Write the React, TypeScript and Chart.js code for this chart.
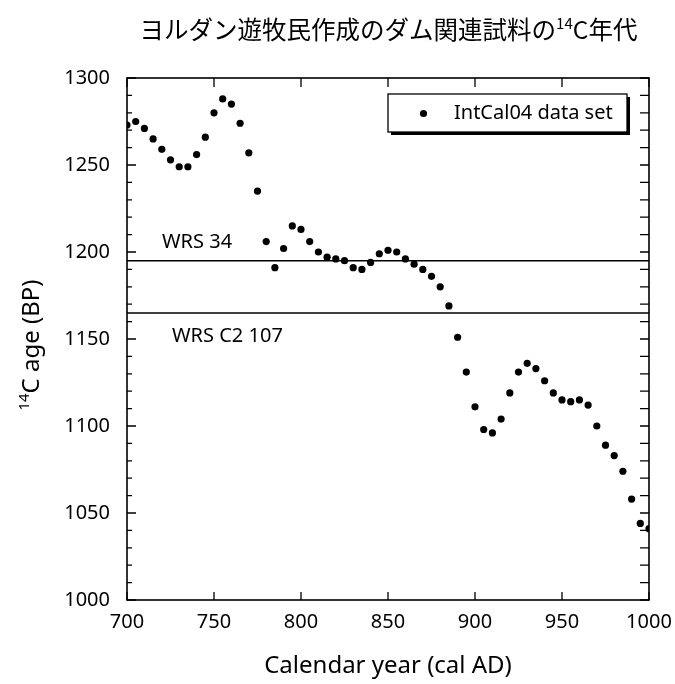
import React, { useEffect, useRef } from "react";
import { Chart, registerables } from "chart.js";

Chart.register(...registerables);

const years = [
  700, 705, 710, 715, 720, 725, 730, 735, 740, 745,
  750, 755, 760, 765, 770, 775, 780, 785, 790, 795,
  800, 805, 810, 815, 820, 825, 830, 835, 840, 845,
  850, 855, 860, 865, 870, 875, 880, 885, 890, 895,
  900, 905, 910, 915, 920, 925, 930, 935, 940, 945,
  950, 955, 960, 965, 970, 975, 980, 985, 990, 995,
  1000,
];

const c14Ages = [
  1273, 1275, 1271, 1265, 1259, 1253, 1249, 1249, 1256, 1266,
  1280, 1288, 1285, 1274, 1257, 1235, 1206, 1191, 1202, 1215,
  1213, 1206, 1200, 1197, 1196, 1195, 1191, 1190, 1194, 1199,
  1201, 1200, 1196, 1193, 1190, 1186, 1180, 1169, 1151, 1131,
  1111, 1098, 1096, 1104, 1119, 1131, 1136, 1133, 1126, 1119,
  1115, 1114, 1115, 1112, 1100, 1089, 1083, 1074, 1058, 1044,
  1041,
];

const sampleNames = ["WRS 34", "WRS C2 107"];
const sampleAges = [1195, 1165];

const xRange = [700, 1000];
const yRange = [1000, 1300];

const titleMain = "ヨルダン遊牧民作成のダム関連試料の";
const titleSup = "14";
const titleRest = "C年代";
const yTitleSup = "14";
const yTitleRest = "C age (BP)";
const xTitle = "Calendar year (cal AD)";
const legendLabel = "IntCal04 data set";

const LATIN = "'Noto Sans', 'DejaVu Sans', sans-serif";
const CJK = "'Noto Sans CJK JP', 'Noto Sans', sans-serif";

const decorPlugin = {
  id: "decor",
  afterDraw(chart: any) {
    const ctx = chart.ctx;
    const { left, right, top, bottom } = chart.chartArea;
    const xs = chart.scales.x;
    const ys = chart.scales.y;
    ctx.save();
    ctx.strokeStyle = "#000";
    ctx.fillStyle = "#000";

    // frame
    ctx.lineWidth = 1.6;
    ctx.strokeRect(left, top, right - left, bottom - top);

    // ticks (inward)
    ctx.lineWidth = 1.3;
    ctx.beginPath();
    for (let v = yRange[0]; v <= yRange[1]; v += 10) {
      const py = ys.getPixelForValue(v);
      const major = v % 50 === 0;
      ctx.moveTo(left, py);
      ctx.lineTo(left + (major ? 9 : 5), py);
      ctx.moveTo(right, py);
      ctx.lineTo(right - 9, py);
    }
    for (let v = xRange[0]; v <= xRange[1]; v += 50) {
      const px = xs.getPixelForValue(v);
      ctx.moveTo(px, top);
      ctx.lineTo(px, top + 9);
      ctx.moveTo(px, bottom);
      ctx.lineTo(px, bottom - 8);
    }
    ctx.stroke();

    // sample labels
    ctx.font = `20px ${LATIN}`;
    ctx.textAlign = "left";
    ctx.textBaseline = "alphabetic";
    const l1 = ys.getPixelForValue(sampleAges[0]);
    const l2 = ys.getPixelForValue(sampleAges[1]);
    ctx.fillText(sampleNames[0], left + 35, l1 - 13);
    ctx.fillText(sampleNames[1], left + 45, l2 + 29);

    // legend box
    const bx = 388, by = 94, bw = 239, bh = 38;
    ctx.fillRect(bx + 3, by + 3, bw, bh);
    ctx.fillStyle = "#fff";
    ctx.fillRect(bx, by, bw, bh);
    ctx.lineWidth = 1.3;
    ctx.strokeRect(bx, by, bw, bh);
    ctx.fillStyle = "#000";
    ctx.beginPath();
    ctx.arc(bx + 35.5, by + 19.5, 3.6, 0, Math.PI * 2);
    ctx.fill();
    ctx.font = `20px ${LATIN}`;
    ctx.textBaseline = "middle";
    ctx.fillText(chart.data.datasets[0].label, bx + 66, by + 19);

    // title
    ctx.textBaseline = "alphabetic";
    const tf = `24.5px ${CJK}`;
    const sf = `15px ${CJK}`;
    ctx.font = tf;
    const w1 = ctx.measureText(titleMain).width;
    const w3 = ctx.measureText(titleRest).width;
    ctx.font = sf;
    const w2 = ctx.measureText(titleSup).width;
    const total = w1 + w2 + w3;
    let tx = 388.5 - total / 2;
    const tBase = 39;
    ctx.font = tf;
    ctx.fillText(titleMain, tx, tBase);
    tx += w1;
    ctx.font = sf;
    ctx.fillText(titleSup, tx, tBase - 10);
    tx += w2;
    ctx.font = tf;
    ctx.fillText(titleRest, tx, tBase);

    // y title rotated
    ctx.save();
    ctx.translate(39, 345);
    ctx.rotate(-Math.PI / 2);
    const yf = `24px ${LATIN}`;
    const ysf = `15px ${LATIN}`;
    ctx.font = ysf;
    const ww1 = ctx.measureText(yTitleSup).width;
    ctx.font = yf;
    const ww2 = ctx.measureText(yTitleRest).width;
    let yx = -(ww1 + ww2) / 2;
    ctx.font = ysf;
    ctx.fillText(yTitleSup, yx, -10);
    yx += ww1;
    ctx.font = yf;
    ctx.fillText(yTitleRest, yx, 0);
    ctx.restore();

    ctx.restore();
  },
};

export default function App() {
  const ref = useRef<HTMLCanvasElement | null>(null);

  useEffect(() => {
    if (!ref.current) return;
    const points = years.map((x, i) => ({ x, y: c14Ages[i] }));
    const lineSets = sampleNames.map((name, i) => ({
      type: "line" as const,
      label: name,
      data: [
        { x: xRange[0], y: sampleAges[i] },
        { x: xRange[1], y: sampleAges[i] },
      ],
      borderColor: "#000",
      borderWidth: 1.5,
      pointRadius: 0,
      fill: false,
    }));
    const chart = new Chart(ref.current, {
      type: "scatter",
      data: {
        datasets: [
          {
            label: legendLabel,
            data: points,
            backgroundColor: "#000",
            borderColor: "#000",
            pointRadius: 3.6,
            pointHoverRadius: 3.6,
            borderWidth: 0,
          } as any,
          ...lineSets,
        ],
      },
      options: {
        responsive: false,
        animation: false,
        events: [],
        layout: { padding: { left: 0, top: 78, right: 26, bottom: 0 } },
        plugins: {
          legend: { display: false },
          tooltip: { enabled: false },
          title: { display: false },
        },
        scales: {
          x: {
            type: "linear",
            min: xRange[0],
            max: xRange[1],
            grid: { display: false, drawTicks: false },
            border: { display: false },
            ticks: {
              stepSize: 50,
              padding: 10,
              color: "#000",
              maxRotation: 0,
              font: { family: LATIN, size: 20 },
              callback: (v: any) => String(v),
            },
            title: {
              display: true,
              text: xTitle,
              color: "#000",
              font: { family: LATIN, size: 24 },
              padding: { top: 0, bottom: 3 },
            },
            afterFit: (s: any) => {
              s.height = 84;
              s.paddingLeft = 0;
              s.paddingRight = 0;
            },
          },
          y: {
            type: "linear",
            min: yRange[0],
            max: yRange[1],
            grid: { display: false, drawTicks: false },
            border: { display: false },
            ticks: {
              stepSize: 50,
              padding: 17,
              color: "#000",
              font: { family: LATIN, size: 20 },
              callback: (v: any) => String(v),
            },
            afterFit: (s: any) => {
              s.width = 127;
              s.paddingTop = 0;
              s.paddingBottom = 0;
            },
          },
        },
      } as any,
      plugins: [decorPlugin],
    });
    return () => chart.destroy();
  }, []);

  return (
    <div style={{ position: "fixed", left: 0, top: 0, width: 675, height: 684, background: "#fff" }}>
      <canvas ref={ref} width={675} height={684} style={{ width: 675, height: 684 }} />
    </div>
  );
}
